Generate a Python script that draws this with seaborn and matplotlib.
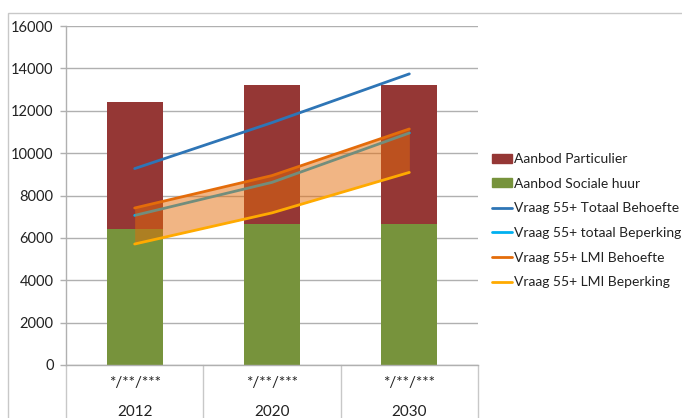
import numpy as np
import pandas as pd
import matplotlib
matplotlib.use("Agg")
import matplotlib.pyplot as plt
import seaborn as sns
from matplotlib.patches import Rectangle
from matplotlib.lines import Line2D
import matplotlib.transforms as mtransforms

# --- data -------------------------------------------------------------
years = ["2012", "2020", "2030"]
sublabel = "*/**/***"
aanbod_sociale_huur = [6400, 6650, 6650]
aanbod_particulier = [6000, 6550, 6550]
vraag_totaal_behoefte = [9270, 11440, 13740]
vraag_totaal_beperking = [7060, 8620, 10950]
vraag_lmi_behoefte = [7410, 8940, 11140]
vraag_lmi_beperking = [5710, 7180, 9090]
y_ticks = [0, 2000, 4000, 6000, 8000, 10000, 12000, 14000, 16000]

# --- styling ----------------------------------------------------------
sns.set_theme(style="white")
plt.rcParams["font.family"] = ["Lato", "DejaVu Sans"]

c_part = "#953735"
c_soc = "#77933C"
c_tot_beh = "#2E75B6"
c_tot_bep = "#00B0F0"
c_lmi_beh = "#E46C0A"
c_lmi_bep = "#FFAA00"
c_grid = "#B0B0B0"
c_text = "#222222"

fig = plt.figure(figsize=(6.82, 4.18), dpi=100)
ax = fig.add_axes([66 / 682, 1 - 365 / 418, (478 - 66) / 682, (365 - 26) / 418])

df = pd.DataFrame({
    "jaar": years,
    "totaal": np.array(aanbod_sociale_huur) + np.array(aanbod_particulier),
    "sociaal": aanbod_sociale_huur,
})
pos = np.arange(len(years))

# stacked bars: total first (particulier on top), social rent over it
sns.barplot(data=df, x="jaar", y="totaal", order=years, color=c_part,
            saturation=1, width=0.41, linewidth=0, ax=ax, zorder=2)
sns.barplot(data=df, x="jaar", y="sociaal", order=years, color=c_soc,
            saturation=1, width=0.41, linewidth=0, ax=ax, zorder=2)

# demand lines
sns.lineplot(x=pos, y=vraag_totaal_behoefte, color=c_tot_beh, lw=2, ax=ax, zorder=3)
sns.lineplot(x=pos, y=vraag_totaal_beperking, color=c_tot_bep, lw=2, ax=ax, zorder=3)
ax.fill_between(pos, vraag_lmi_beperking, vraag_lmi_behoefte,
                color=c_lmi_beh, alpha=0.5, lw=0, zorder=4)
sns.lineplot(x=pos, y=vraag_lmi_behoefte, color=c_lmi_beh, lw=2, ax=ax, zorder=5)
sns.lineplot(x=pos, y=vraag_lmi_beperking, color=c_lmi_bep, lw=2, ax=ax, zorder=5)

# axes
ax.set_xlim(-0.5, len(years) - 0.5)
ax.set_ylim(0, 16000)
ax.set_yticks(y_ticks)
ax.set_yticklabels([str(v) for v in y_ticks], fontsize=10.5, color=c_text)
ax.yaxis.grid(True, color=c_grid, lw=1, zorder=0)
ax.set_axisbelow(True)
ax.set_xlabel("")
ax.set_ylabel("")
ax.set_xticks(pos)
ax.set_xticklabels([f"{sublabel}\n{y}" for y in years], fontsize=11,
                   color=c_text, linespacing=2.35)
ax.tick_params(axis="x", length=0, pad=8)
ax.tick_params(axis="y", length=4, width=1, color=c_grid, left=True, pad=5)
for s in ["top", "right"]:
    ax.spines[s].set_visible(False)
for s in ["left", "bottom"]:
    ax.spines[s].set_color(c_grid)
    ax.spines[s].set_linewidth(1)

# category separators below the axis
trans = mtransforms.blended_transform_factory(ax.transData, ax.transAxes)
for xb in np.arange(len(years) + 1) - 0.5:
    ax.plot([xb, xb], [0, -0.2], transform=trans, color="#C8C8C8",
            lw=1, clip_on=False, zorder=1)

# legend
handles = [
    Rectangle((0, 0), 1, 1, color=c_part),
    Rectangle((0, 0), 1, 1, color=c_soc),
    Line2D([], [], color=c_tot_beh, lw=2),
    Line2D([], [], color=c_tot_bep, lw=2),
    Line2D([], [], color=c_lmi_beh, lw=2),
    Line2D([], [], color=c_lmi_bep, lw=2),
]
labels = ["Aanbod Particulier", "Aanbod Sociale huur",
          "Vraag 55+ Totaal Behoefte", "Vraag 55+ totaal Beperking",
          "Vraag 55+ LMI Behoefte", "Vraag 55+ LMI Beperking"]
fig.legend(handles, labels, loc="upper left",
           bbox_to_anchor=(492 / 682, 1 - 153 / 418),
           bbox_transform=fig.transFigure, frameon=False, fontsize=10,
           handlelength=1.45, handleheight=0.6, handletextpad=0.12,
           labelspacing=0.91, borderpad=0, borderaxespad=0,
           labelcolor=c_text)

# outer chart frame
fig.patches.append(Rectangle((8 / 682, -0.05), 1, 1 - 13 / 418 + 0.05,
                             transform=fig.transFigure, fill=False,
                             edgecolor="#C8C8C8", lw=1))

fig.savefig("out.png", dpi=100, facecolor="white")
